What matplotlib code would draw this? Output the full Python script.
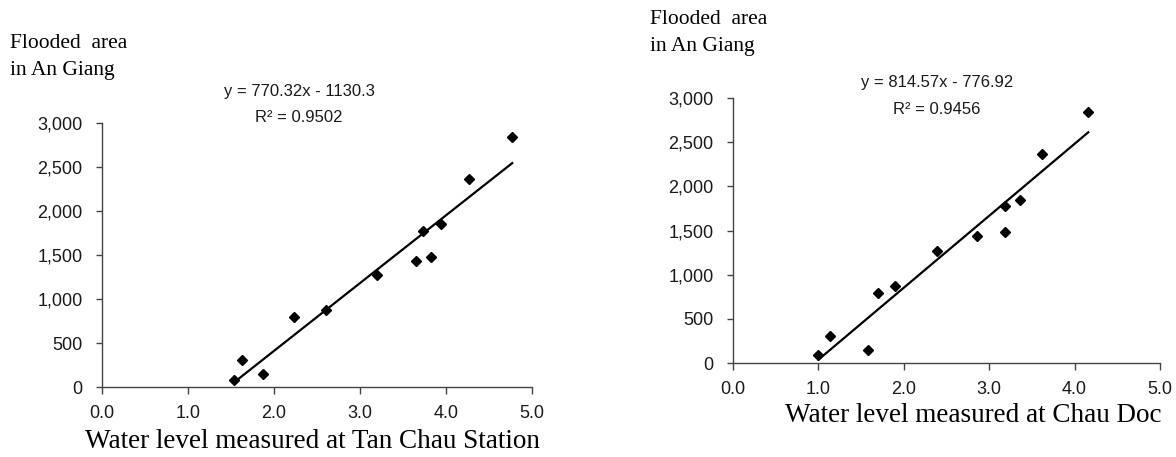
import matplotlib
matplotlib.use("Agg")
import matplotlib.pyplot as plt
from matplotlib.ticker import FuncFormatter

# flooded area in An Giang (same for both panels)
flooded_area = [85, 308, 150, 790, 870, 1268, 1436, 1772, 1478, 1850, 2362, 2842]

# water level at the two stations
tan_chau = [1.53, 1.63, 1.87, 2.23, 2.61, 3.20, 3.65, 3.73, 3.83, 3.94, 4.27, 4.77]
chau_doc = [1.00, 1.13, 1.58, 1.70, 1.90, 2.39, 2.86, 3.19, 3.19, 3.36, 3.62, 4.16]

# trend lines given on the chart
fit_tan_chau = (770.32, -1130.3, 0.9502)
fit_chau_doc = (814.57, -776.92, 0.9456)

x_ticks = [0.0, 1.0, 2.0, 3.0, 4.0, 5.0]
y_ticks = [0, 500, 1000, 1500, 2000, 2500, 3000]

sans = ['Liberation Sans', 'DejaVu Sans']
serif = ['Liberation Serif', 'DejaVu Serif']
plt.rcParams['font.family'] = sans

W, H = 1176, 457
fig = plt.figure(figsize=(W / 100, H / 100), dpi=100)


def px_axes(x0, y0, x1, y1):
    # pixel box (left, top, right, bottom) -> figure fraction
    return fig.add_axes([x0 / W, 1 - y1 / H, (x1 - x0) / W, (y1 - y0) / H])


def draw_panel(ax, xs, fit, eq_x, eq_y1, eq_y2):
    slope, icpt, r2 = fit
    ax.plot(xs, flooded_area, 'D', color='black', ms=5.5, zorder=3)
    lo, hi = min(xs), max(xs)
    ax.plot([lo, hi], [slope * lo + icpt, slope * hi + icpt], color='black', lw=1.6)
    ax.set_xlim(0, 5)
    ax.set_ylim(0, 3000)
    ax.set_xticks(x_ticks)
    ax.set_yticks(y_ticks)
    ax.xaxis.set_major_formatter(FuncFormatter(lambda v, p: f"{v:.1f}"))
    ax.yaxis.set_major_formatter(FuncFormatter(lambda v, p: f"{int(v):,}"))
    for s in ['top', 'right']:
        ax.spines[s].set_visible(False)
    for s in ['left', 'bottom']:
        ax.spines[s].set_color('#444444')
        ax.spines[s].set_linewidth(1.0)
    ax.tick_params(axis='y', direction='out', length=4, width=1, color='#444444', pad=10,
                   labelsize=13, labelcolor='#1a1a1a')
    ax.tick_params(axis='x', direction='out', length=5, width=1, color='#444444', pad=8,
                   labelsize=13, labelcolor='#1a1a1a')
    sign = '-' if icpt < 0 else '+'
    ax.text(eq_x, eq_y1, f"y = {slope:.2f}x {sign} {abs(icpt):g}", transform=ax.transAxes,
            ha='center', va='center', fontsize=12, color='#1a1a1a')
    ax.text(eq_x, eq_y2, f"R² = {r2:.4f}", transform=ax.transAxes,
            ha='center', va='center', fontsize=12, color='#1a1a1a')


ax1 = px_axes(102, 123, 532, 387)
draw_panel(ax1, tan_chau, fit_tan_chau, (299 - 102) / 430, (387 - 92) / 264, (387 - 118) / 264)

ax2 = px_axes(733, 98, 1160, 363)
draw_panel(ax2, chau_doc, fit_chau_doc, (937 - 733) / 427, (363 - 83) / 265, (363 - 109) / 265)

# y titles
fig.text(10 / W, 1 - 43 / H, "Flooded  area", family=serif, fontsize=15.5, va='center')
fig.text(10 / W, 1 - 70 / H, "in An Giang", family=serif, fontsize=15.5, va='center')
fig.text(650 / W, 1 - 20 / H, "Flooded  area", family=serif, fontsize=15.5, va='center')
fig.text(650 / W, 1 - 47 / H, "in An Giang", family=serif, fontsize=15.5, va='center')

# x titles
fig.text(312 / W, 1 - 442 / H, "Water level measured at Tan Chau Station",
         family=serif, fontsize=19.5, ha='center', va='center')
fig.text(973 / W, 1 - 416 / H, "Water level measured at Chau Doc",
         family=serif, fontsize=19.5, ha='center', va='center')

fig.savefig("out.png", dpi=100)
